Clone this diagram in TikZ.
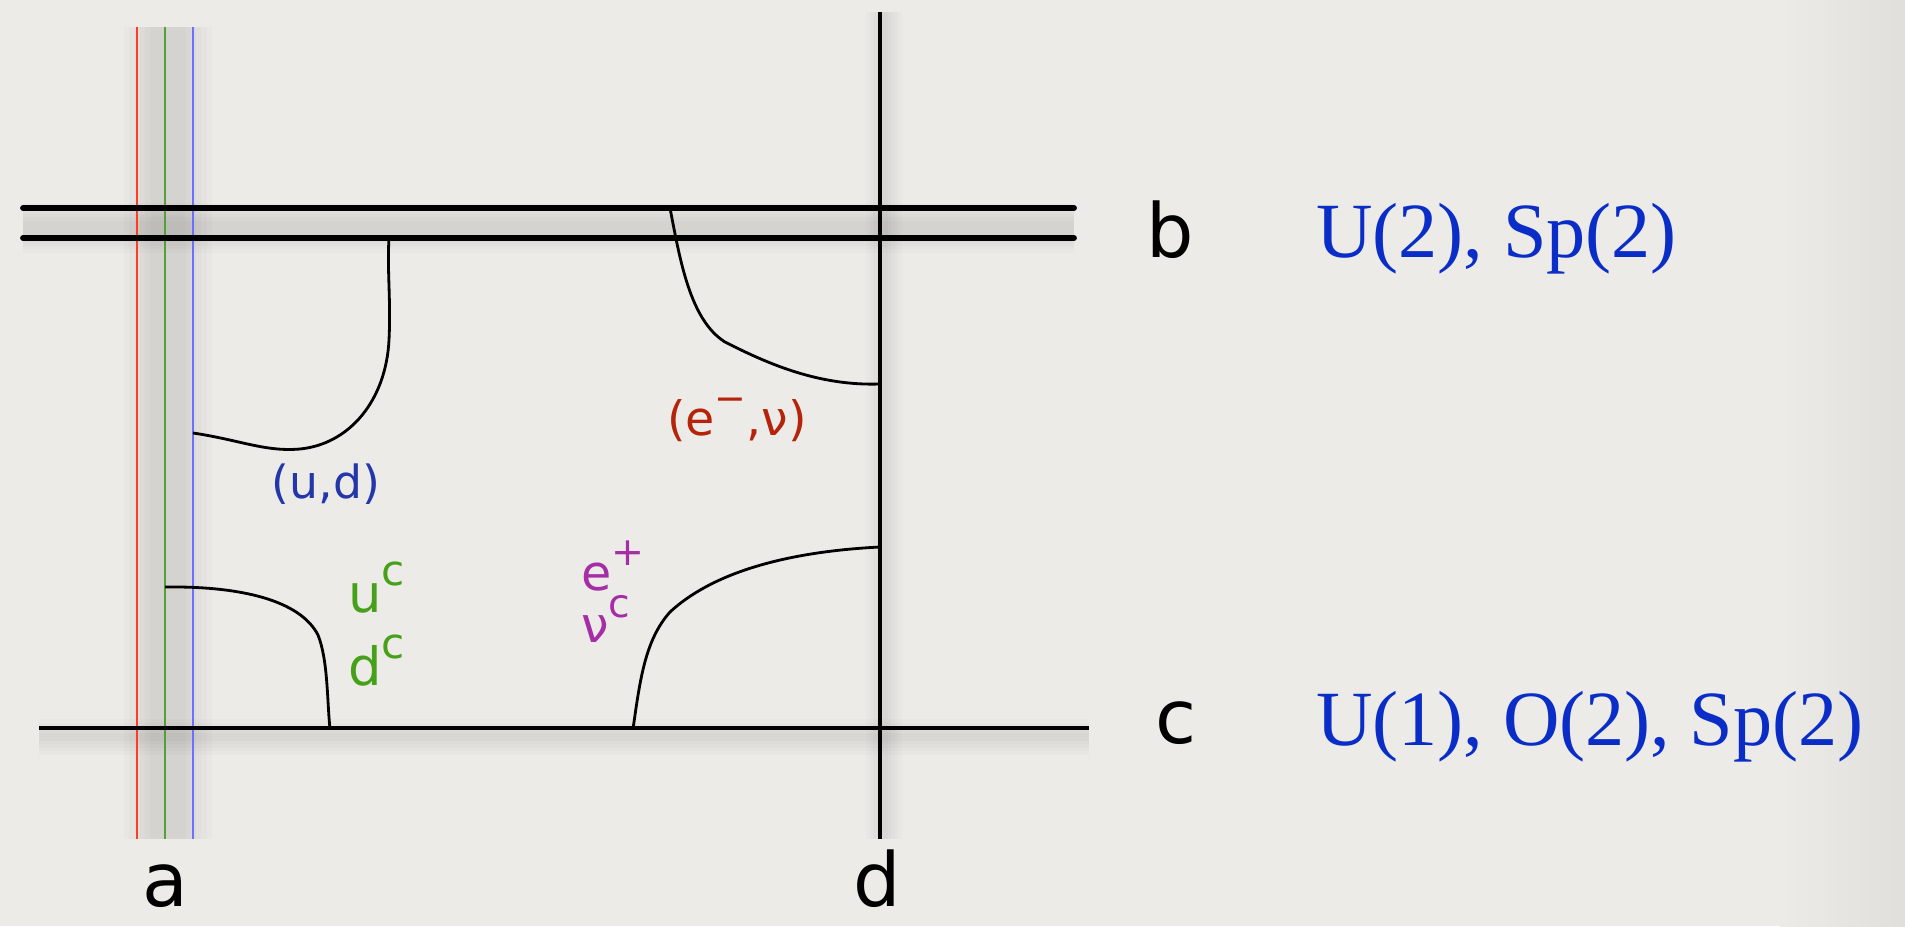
\documentclass[tikz,border=0pt]{standalone}
\usepackage{fontspec}
\setsansfont{DejaVu Sans}
\newfontfamily\grpfont{Liberation Serif}
\usepackage{graphicx}
\usepackage{tikz}
\usetikzlibrary{calc}

\definecolor{paper}{RGB}{236,235,231}
\definecolor{paperdk}{RGB}{224,223,219}
\definecolor{redbr}{RGB}{255,60,40}
\definecolor{greenbr}{RGB}{85,160,50}
\definecolor{bluebr}{RGB}{110,110,255}
\definecolor{grpblue}{RGB}{10,45,200}
\definecolor{udblue}{RGB}{35,55,170}
\definecolor{ucgreen}{RGB}{70,160,25}
\definecolor{epurple}{RGB}{165,45,165}
\definecolor{ered}{RGB}{180,35,10}

\newcommand\up[1]{\raisebox{0.5em}{\scalebox{0.8}{#1}}}

\tikzset{
  thickbr/.style = {black, line width=3.3pt, line cap=round},
  thinbr/.style  = {black, line width=2.1pt},
  colbr/.style   = {line width=1.6pt},
  strng/.style   = {black, line width=1.6pt},
  shd/.style     = {black, opacity=0.016, line width=#1, line cap=butt},
  brlbl/.style   = {font=\sffamily\fontsize{42.5}{50}\selectfont, inner sep=0pt, anchor=base},
  grp/.style     = {font=\grpfont\fontsize{44.5}{52}\selectfont, text=grpblue, inner sep=0pt, anchor=base west},
  qlbl/.style    = {font=\sffamily\fontsize{26}{30}\selectfont, inner sep=0pt, anchor=base},
  qlblb/.style   = {font=\sffamily\fontsize{30}{34}\selectfont, inner sep=0pt, anchor=base west},
}

\begin{document}
\begin{tikzpicture}[x=0.02cm, y=-0.02cm]
  \useasboundingbox (0,0) rectangle (1905,926);
  \fill[paper] (0,0) rectangle (1905,926);
  \shade[left color=paper, right color=paperdk] (1780,0) rectangle (1905,926);

  % brane end points
  \coordinate (rt) at (137,27);   \coordinate (rb) at (137,839);
  \coordinate (gt) at (165,27);   \coordinate (gb) at (165,839);
  \coordinate (bt) at (193,27);   \coordinate (bb) at (193,839);
  \coordinate (b1l) at (23,208);  \coordinate (b1r) at (1074,208);
  \coordinate (b2l) at (23,238);  \coordinate (b2r) at (1074,238);
  \coordinate (cl) at (39,728);   \coordinate (cr) at (1089,728);
  \coordinate (dt) at (880,12);   \coordinate (db) at (880,839);

  % soft shadows
  \foreach \w in {20pt,26pt,32pt,38pt,44pt,50pt} {
    \draw[shd=\w] ($(gt)+(3,0)$) -- ($(gb)+(3,0)$);
  }
  \foreach \w in {8pt,12pt,16pt,20pt,24pt,28pt} {
    \draw[shd=\w] ($(b1l)!0.5!(b2l)+(0,5)$) -- ($(b1r)!0.5!(b2r)+(0,5)$);
  }
  \foreach \w in {4pt,8pt,12pt,16pt,20pt} {
    \draw[shd=\w] ($(cl)+(0,9)$) -- ($(cr)+(0,9)$);
    \draw[shd=\w] ($(dt)+(4,0)$) -- ($(db)+(4,0)$);
  }

  % branes
  \draw[colbr, redbr] (rt) -- (rb);
  \draw[colbr, greenbr] (gt) -- (gb);
  \draw[colbr, bluebr] (bt) -- (bb);
  \draw[thickbr] (b1l) -- (b1r);
  \draw[thickbr] (b2l) -- (b2r);
  \draw[thinbr] (cl) -- (cr);
  \draw[thinbr] (dt) -- (db);

  % strings
  \coordinate (ud1) at (193,433);  \coordinate (ud2) at (389,238);
  \coordinate (uc1) at (165,587);  \coordinate (uc2) at (330,729);
  \coordinate (en1) at (670,208);  \coordinate (en2) at (880,384);
  \coordinate (ep1) at (633,729);  \coordinate (ep2) at (880,547);
  \draw[strng] (ud1) .. controls (240,440) and (265,452) .. (300,449)
    .. controls (350,444) and (386,400) .. (389,340)
    .. controls (391,300) and (387,270) .. (ud2);
  \draw[strng] (uc1) .. controls (240,586) and (300,600) .. (318,635)
    .. controls (328,660) and (327,700) .. (uc2);
  \draw[strng] (en1) .. controls (680,260) and (690,320) .. (725,342)
    .. controls (770,365) and (820,386) .. (en2);
  \draw[strng] (ep1) .. controls (640,680) and (645,640) .. (670,612)
    .. controls (710,575) and (780,552) .. (ep2);

  % labels
  \node[brlbl] (la) at (165,906) {a};
  \node[brlbl] (lb) at (1170,257) {b};
  \node[brlbl] (lc) at (1176,743) {c};
  \node[brlbl] (ld) at (877,906) {d};
  \node[grp] (gpb) at (1316,257) {U(2), Sp(2)};
  \node[grp] (gpc) at (1316,745) {U(1), O(2), Sp(2)};

  \node[qlbl, text=udblue] (ud) at (326,498) {(u,d)};
  \node[qlblb, text=ucgreen] (uc) at (348,612) {u\up{c}};
  \node[qlblb, text=ucgreen] (dc) at (348,685) {d\up{c}};
  \node[qlblb, text=epurple, font=\sffamily\fontsize{28}{32}\selectfont] (ep) at (581,590) {e\up{+}};
  \node[qlblb, text=epurple, font=\sffamily\fontsize{28}{32}\selectfont] (nc) at (581,642) {ν\up{c}};
  \node[qlbl, text=ered, font=\sffamily\fontsize{27}{30}\selectfont] (en) at (737,435) {(e\up{−},ν)};
\end{tikzpicture}
\end{document}
